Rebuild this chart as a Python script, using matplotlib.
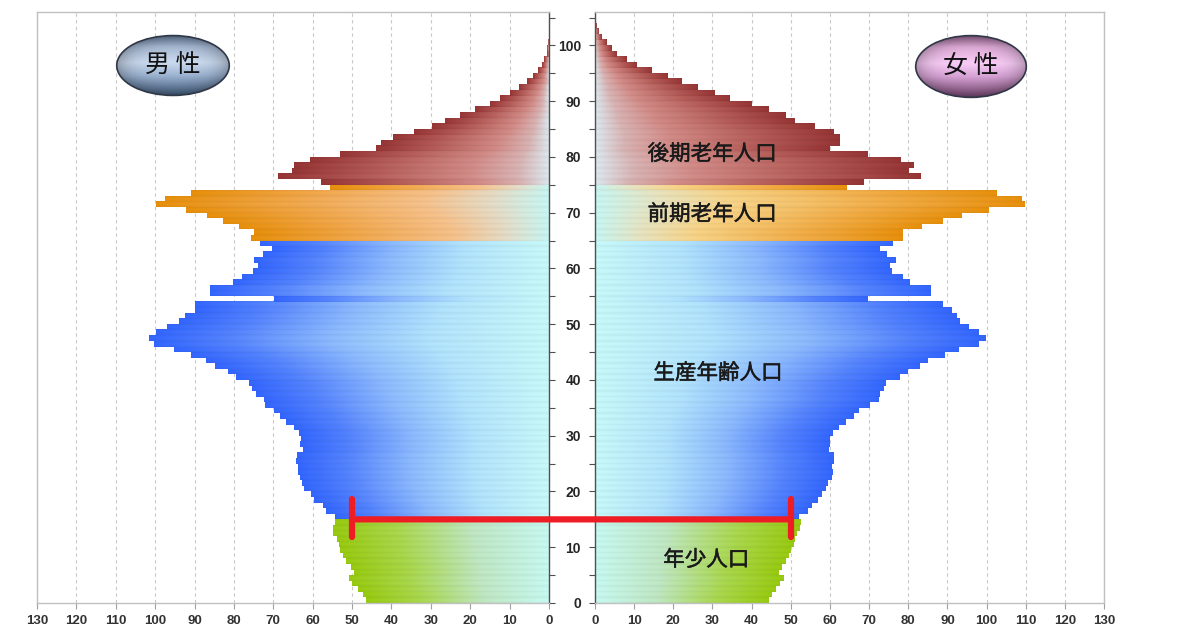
import numpy as np
import matplotlib
matplotlib.use("Agg")
import matplotlib.pyplot as plt
import matplotlib.patheffects as pe
from matplotlib.colors import LinearSegmentedColormap
from matplotlib.patches import Ellipse, ConnectionPatch

plt.rcParams['font.family'] = ['Liberation Sans', 'Noto Sans CJK JP', 'DejaVu Sans']

# population by single year of age (10,000 persons)
ages = list(range(106))
male = [46.4, 47.3, 48.4, 49.9, 50.9, 49.5, 50.3, 51.5, 52.3, 53.0,
        53.4, 53.8, 54.9, 54.9, 54.3, 54.3, 56.6, 57.4, 59.6, 60.4,
        62.1, 62.7, 63.3, 63.7, 63.8, 64.3, 64.0, 62.5, 63.3, 63.0,
        63.6, 64.8, 66.9, 68.4, 69.7, 72.0, 72.3, 74.3, 75.4, 76.2,
        79.4, 81.6, 84.7, 87.2, 91.0, 95.3, 100.3, 101.6, 99.9, 97.0,
        94.0, 92.3, 90.0, 90.0, 69.9, 86.0, 86.0, 80.3, 78.0, 75.2,
        73.9, 75.0, 72.6, 70.3, 73.5, 75.6, 74.8, 78.8, 82.8, 86.8,
        92.1, 99.7, 97.4, 91.0, 55.5, 57.9, 68.9, 65.3, 64.8, 60.8,
        53.0, 44.0, 42.7, 39.5, 34.4, 29.6, 26.4, 22.7, 18.8, 15.1,
        12.4, 9.9, 7.5, 5.7, 4.0, 2.7, 1.7, 1.2, 0.6, 0.4,
        0.2, 0.1, 0.05, 0.03, 0.02, 0.01]
female = [44.3, 45.2, 46.1, 47.1, 48.2, 46.8, 47.6, 48.6, 49.5, 50.0,
          50.7, 50.9, 51.5, 52.2, 52.4, 52.0, 54.4, 55.4, 56.7, 57.8,
          58.8, 59.3, 60.4, 60.7, 60.5, 60.9, 60.8, 59.6, 59.8, 60.0,
          60.6, 62.1, 64.1, 65.9, 67.2, 70.2, 72.3, 72.7, 73.6, 74.2,
          77.8, 79.7, 82.9, 85.0, 89.2, 92.9, 98.0, 99.8, 98.0, 95.4,
          93.0, 92.3, 91.0, 88.8, 69.5, 85.6, 85.6, 80.3, 78.5, 75.7,
          75.3, 76.8, 74.4, 72.7, 76.1, 78.6, 78.6, 83.5, 88.7, 93.5,
          100.4, 109.7, 108.9, 102.5, 64.2, 68.7, 83.2, 80.1, 81.4, 78.0,
          69.7, 59.9, 62.5, 62.5, 60.8, 56.1, 51.0, 48.7, 44.3, 40.0,
          34.3, 30.5, 26.3, 22.0, 18.4, 14.4, 10.6, 8.1, 5.5, 4.2,
          3.0, 1.7, 0.8, 0.4, 0.2, 0.1]

# age groups: (first age, last age, label)
groups = [(0, 14, "年少人口"), (15, 64, "生産年齢人口"),
          (65, 74, "前期老年人口"), (75, 105, "後期老年人口")]
group_label_pos = [(28.4, 7.7), (31.4, 41.2), (29.9, 69.7), (29.9, 80.5)]
marker_age = 15
marker_value = 50

grad = {
    "年少人口": [(0, '#c8faf2'), (0.35, '#c0e8c4'), (0.7, '#aad84e'), (1, '#98cb10')],
    "生産年齢人口": [(0, '#c8fafa'), (0.3, '#b2e4fe'), (0.55, '#8cbaff'), (0.8, '#5584ff'), (1, '#3366ff')],
    "前期老年人口": [(0, '#c8f7f4'), (0.15, '#e6dcc6'), (0.32, '#f7c28c'), (0.65, '#f2a84c'), (1, '#e8900c')],
    "後期老年人口": [(0, '#dde9f0'), (0.12, '#d9b4b4'), (0.3, '#d38c88'), (0.65, '#b65e5a'), (1, '#963535')],
}
# the women's early-elderly bars lean more to yellow
grad_female = dict(grad)
grad_female["前期老年人口"] = [(0, '#c8f7f4'), (0.15, '#e8e4c0'), (0.32, '#f8d488'),
                          (0.65, '#f3b04c'), (1, '#e8900c')]


def gradient_bars(ax, bars, stops):
    cmap = LinearSegmentedColormap.from_list("g", stops)
    t = np.linspace(0, 1, 256)
    rows = np.linspace(-1, 1, 6)
    img = cmap(t)[None, :, :3] * (1 - 0.035 * rows[:, None, None] ** 2)
    img = np.clip(img, 0, 1)
    for b in bars:
        x0, y0, w, h = b.get_x(), b.get_y(), b.get_width(), b.get_height()
        ax.imshow(img, extent=[x0, x0 + w, y0, y0 + h], aspect='auto',
                  interpolation='bilinear', zorder=2)


fig = plt.figure(figsize=(12, 6.28), dpi=100)
axL = fig.add_axes([37 / 1200, 25 / 628, 512 / 1200, 591 / 628])
axR = fig.add_axes([595 / 1200, 25 / 628, 509 / 1200, 591 / 628])

ages_arr = np.array(ages)
for ax, vals, gset in [(axL, male, grad), (axR, female, grad_female)]:
    vals = np.array(vals)
    for lo, hi, name in groups:
        m = (ages_arr >= lo) & (ages_arr <= hi)
        bars = ax.barh(ages_arr[m], vals[m], height=1, align='edge',
                       color='none', edgecolor='none')
        gradient_bars(ax, bars, gset[name])

tick_font = dict(fontsize=9.5, fontweight='bold', color='#333333')
for ax in (axL, axR):
    ax.set_ylim(0, 106)
    ax.set_xticks(range(0, 131, 10))
    ax.set_xticklabels([str(v) for v in range(0, 131, 10)], **tick_font)
    ax.set_yticks(range(0, 106, 5))
    ax.grid(axis='x', color='#c8c8c8', ls=(0, (3, 3)), lw=0.8)
    ax.set_axisbelow(True)
    ax.tick_params(axis='x', length=4, color='#a0a0a0', pad=5)
    for s in ax.spines.values():
        s.set_color('#c0c0c0')
        s.set_linewidth(1)

axL.set_xlim(130, 0)
axR.set_xlim(0, 130)

axL.yaxis.tick_right()
axL.tick_params(axis='y', direction='out', length=4, color='#505050', labelright=False)
axL.spines['right'].set_color('#505050')

axR.tick_params(axis='y', direction='out', length=4, color='#505050', pad=6)
axR.set_yticklabels([str(a) if a % 10 == 0 else '' for a in range(0, 106, 5)],
                    fontsize=10, fontweight='bold', color='#262626')
axR.spines['left'].set_color('#505050')

for (lo, hi, name), (x, y) in zip(groups, group_label_pos):
    axR.text(x, y, name, ha='center', va='center', fontsize=15.5,
             family=['Noto Sans CJK JP'], color='#1a1a1a', zorder=5,
             path_effects=[pe.withStroke(linewidth=0.35, foreground='#1a1a1a')])

# red marker at age 15
con = ConnectionPatch(xyA=(marker_value, marker_age), coordsA=axL.transData,
                      xyB=(marker_value, marker_age), coordsB=axR.transData,
                      color='#ee1c24', lw=4.5, capstyle='round', zorder=10)
fig.add_artist(con)
for ax in (axL, axR):
    ax.plot([marker_value, marker_value], [marker_age - 3.2, marker_age + 3.6],
            color='#ee1c24', lw=4.5, solid_capstyle='round', zorder=10, clip_on=False)


def badge(rect, text, stops):
    bax = fig.add_axes(rect)
    bax.set_xlim(0, 1)
    bax.set_ylim(0, 1)
    bax.axis('off')
    cmap = LinearSegmentedColormap.from_list("b", stops)
    yy, xx = np.mgrid[0:1:120j, 0:1:200j]
    d = np.sqrt(((xx - 0.5) / 0.5) ** 2 + ((yy - 0.5) / 0.5) ** 2)
    img = cmap(yy)[..., :3] * (1 - 0.3 * np.clip(d, 0, 1) ** 4)[..., None]
    el = Ellipse((0.5, 0.5), 0.97, 0.95, facecolor='none', edgecolor='#303848', lw=1.2, zorder=3)
    bax.add_patch(el)
    im = bax.imshow(img, extent=[0, 1, 0, 1], origin='lower', aspect='auto', zorder=1)
    im.set_clip_path(el)
    bax.text(0.5, 0.5, text, ha='center', va='center', fontsize=18,
             family=['Noto Sans CJK JP'], color='#111111', zorder=4)


badge([115 / 1200, 531 / 628, 116 / 1200, 63 / 628], "男 性",
      [(0, '#3d5878'), (0.35, '#9fb6d4'), (0.55, '#cbdaee'), (0.8, '#a9bcd6'), (1, '#5f7896')])
badge([914 / 1200, 529 / 628, 114 / 1200, 65 / 628], "女 性",
      [(0, '#6f3f6a'), (0.35, '#d8a4d6'), (0.55, '#f8ccf6'), (0.8, '#e2aeda'), (1, '#8d5c88')])

fig.savefig("out.png", dpi=100)
